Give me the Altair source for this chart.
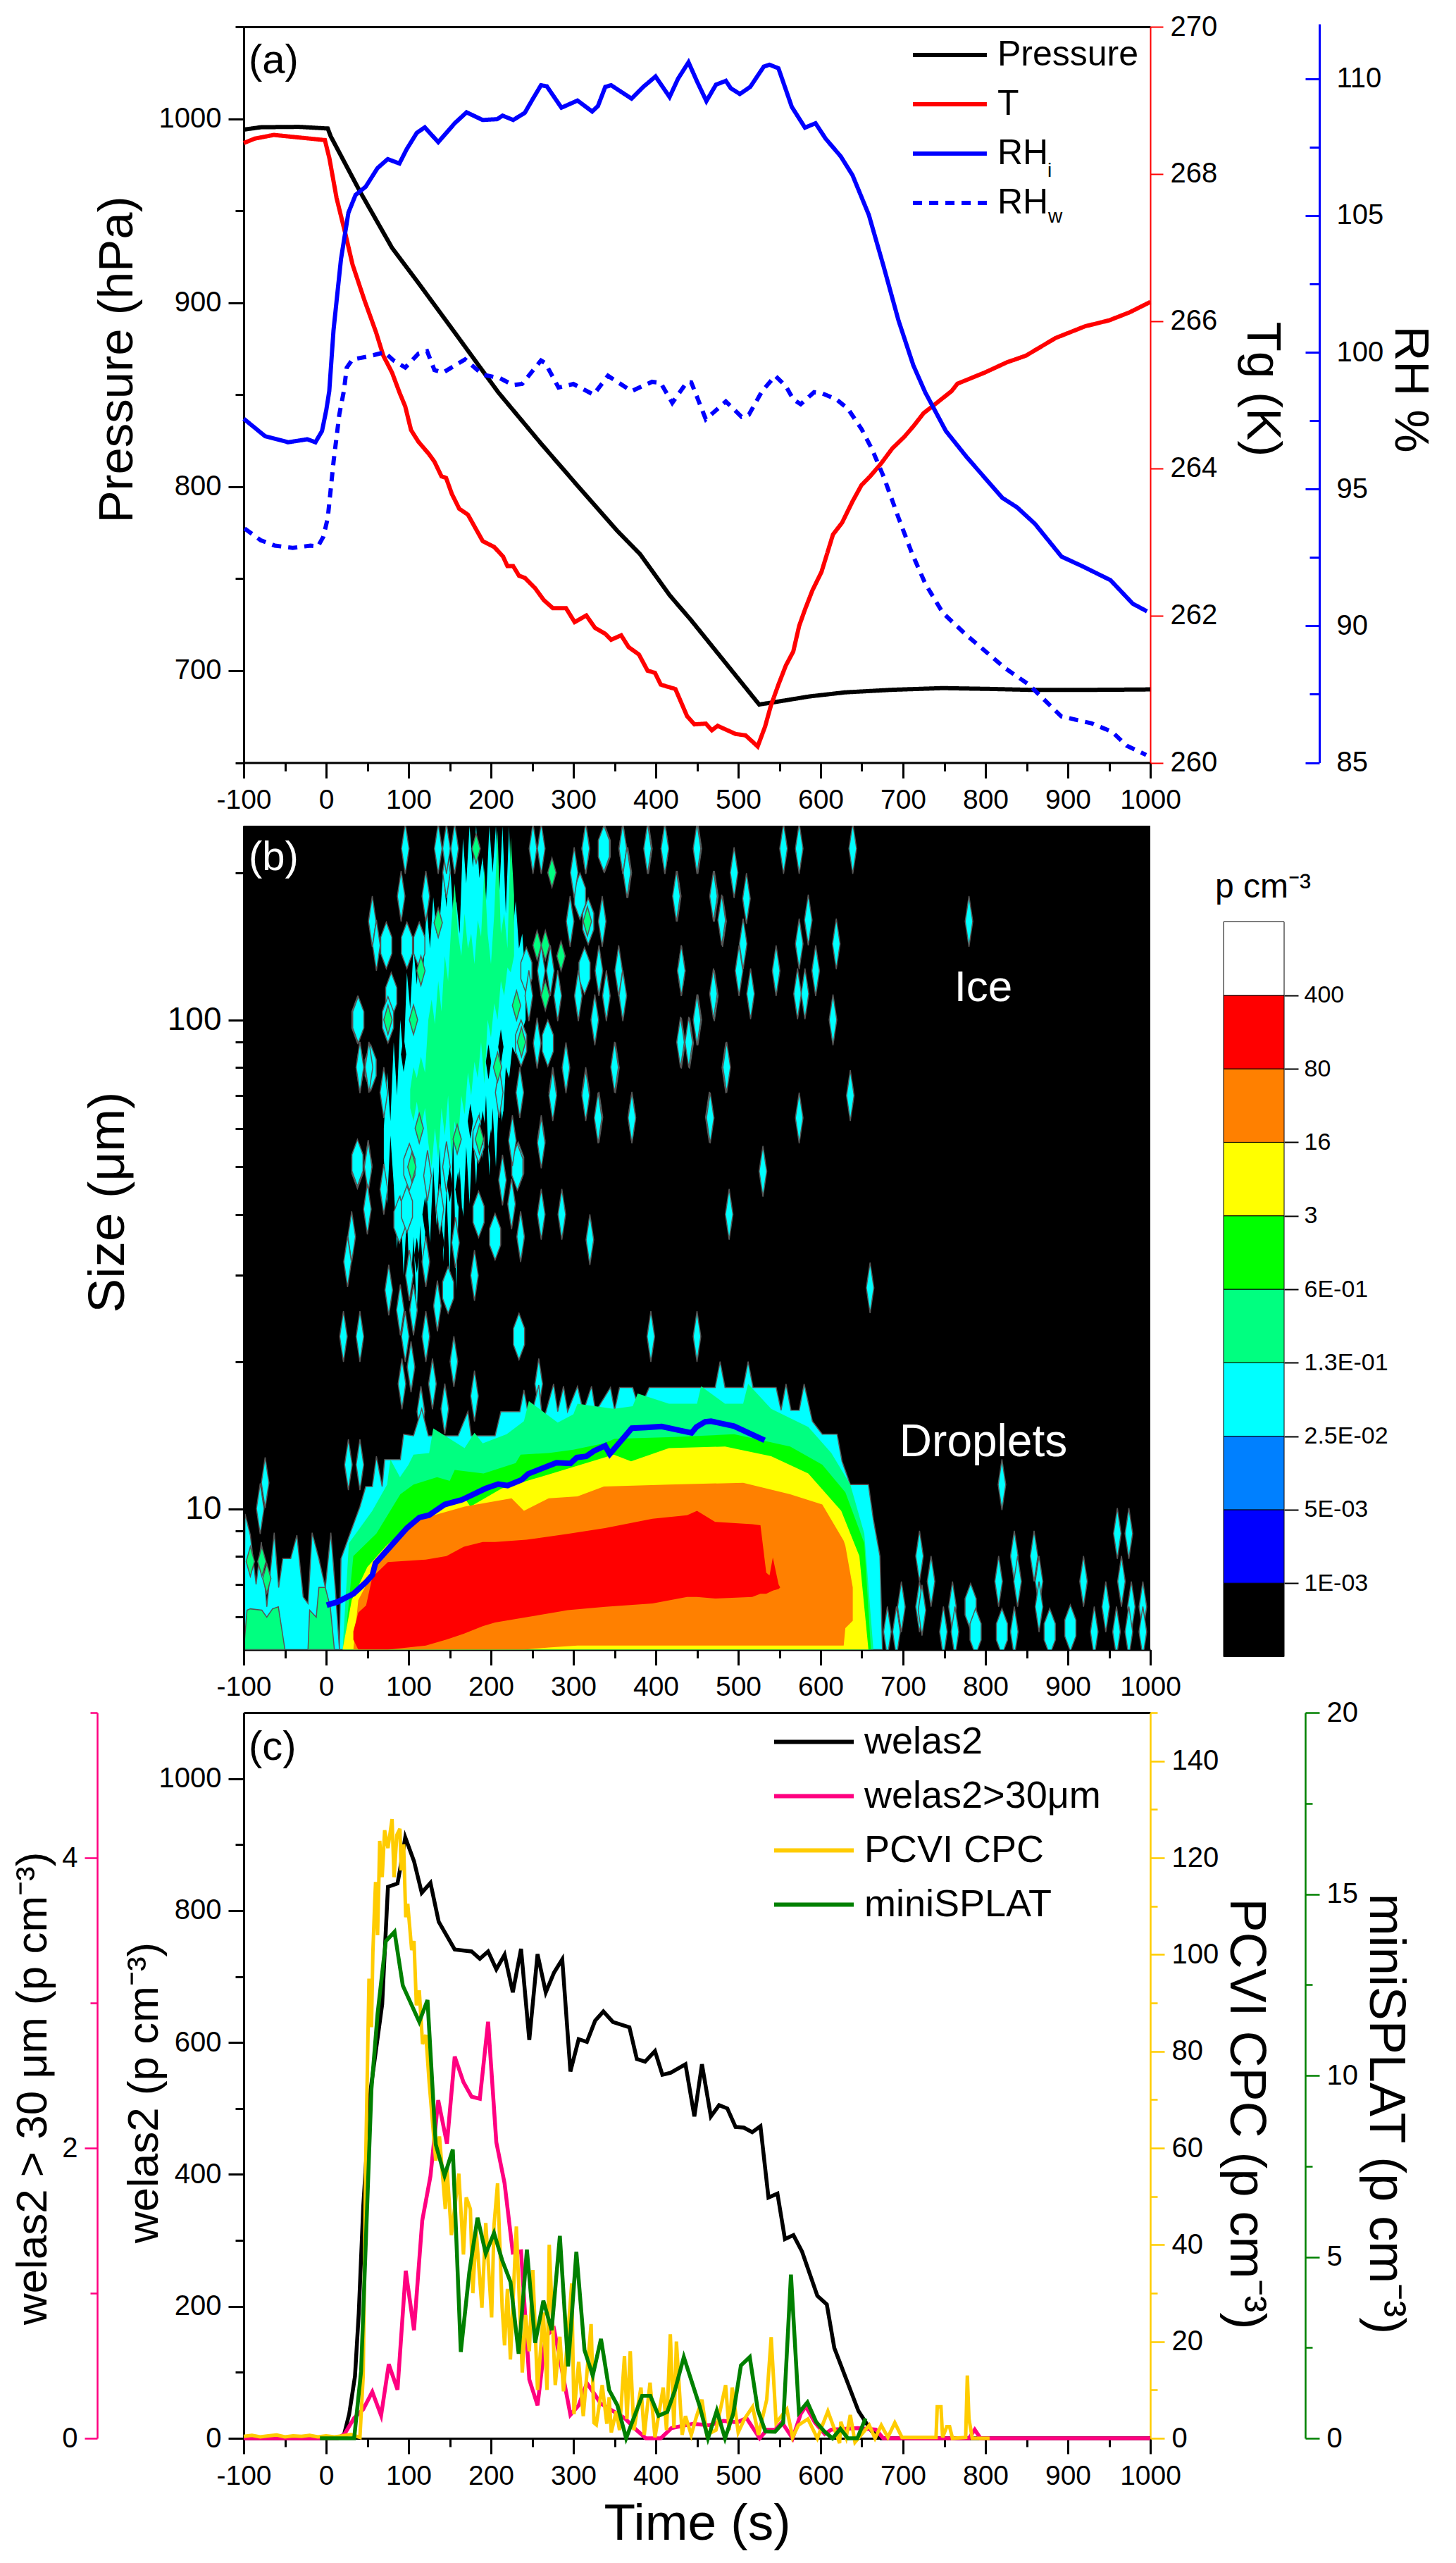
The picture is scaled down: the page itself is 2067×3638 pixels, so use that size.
import json
import altair as alt
import pandas as pd

FONT = "Liberation Sans"
XDOM = [-100, 1000]
W = 1287
HA, HB, HC = 1044.5, 1169.5, 1030

# ---------- panel (a) ----------
p_t = [-100,-79,-33,2,5.5,41,80,112,158,209,261,303,353,381,417,442.7,525.4,543,586.6,629.7,687,748,802,860,946,1000]
p_v = [994.1,995.4,995.6,994.7,990.5,960.5,929.8,910.7,882.6,851.2,823.3,801.6,776.1,763.3,740.9,727.5,681.6,682.8,686,688.2,689.6,690.5,690.1,689.5,689.6,689.8]
T_t = [-100,-86.6,-63.5,-37,-1.5,4,12.7,23.3,32,46.3,60.5,69.4,80,89,96,103,112,124.3,131.4,140,145.5,152.6,161.5,172,190,204,214.7,220,227,234,241.2,253.6,264,275,291,301.5,315.7,326.3,338.7,345.8,358,367,379.5,390,399,406,423.8,438,446.8,460.7,468,475,496.7,509,523.6,532.6,539.8,548.8,557.8,566.8,574,581,590,601,615,626,638.7,649.5,660,673,687,701.7,712.5,725,737.7,759,766,799,826,849,885,921,950,975,1000]
T_v = [268.42,268.48,268.53,268.50,268.46,268.21,267.67,267.19,266.77,266.29,265.85,265.53,265.30,265.03,264.84,264.52,264.36,264.20,264.09,263.89,263.87,263.65,263.45,263.37,263.01,262.93,262.80,262.67,262.67,262.54,262.51,262.37,262.21,262.10,262.10,261.91,262.00,261.83,261.75,261.67,261.73,261.57,261.47,261.25,261.22,261.06,261.00,260.63,260.52,260.53,260.44,260.50,260.39,260.37,260.22,260.49,260.78,261.06,261.32,261.51,261.86,262.08,262.34,262.59,263.10,263.26,263.55,263.77,263.89,264.06,264.27,264.43,264.57,264.75,264.86,265.05,265.15,265.30,265.44,265.53,265.77,265.93,266.01,266.12,266.26]
rhi_t = [-100,-74,-46,-22.8,-13,-5,0.2,3.8,9,18,27,35.7,48,62.3,74.7,88.9,97.7,110,119.7,136,156,170.4,189.9,207.6,214,227,241,250,260.7,267.8,285.5,305,322.8,329.8,338.7,345.8,370.6,384.8,399.7,416.7,427,439.7,450,461.4,473,485,491,502,514.6,531,538,548.8,565,581,593.8,606,624.4,638.7,658.5,676.5,694.5,712.5,727,752,777.2,820.4,838.4,860,892.3,917.5,951.7,978.7,996]
rhi_v = [97.57,96.93,96.71,96.82,96.71,97.12,97.89,98.58,100.82,103.4,105.1,105.75,106.05,106.73,107.06,106.9,107.42,108.02,108.22,107.68,108.37,108.77,108.49,108.52,108.65,108.49,108.75,109.22,109.76,109.72,108.94,109.2,108.8,109.0,109.7,109.76,109.27,109.7,110.08,109.33,110.0,110.6,109.9,109.18,109.78,109.92,109.65,109.44,109.7,110.44,110.51,110.38,108.97,108.21,108.37,107.81,107.16,106.47,105.02,103.13,101.16,99.52,98.53,97.12,96.17,94.68,94.33,93.73,92.53,92.18,91.67,90.81,90.53]
rhw_t = [-99,-79.5,-62,-40.5,-19,-10,-3.3,2,9,16,21.5,25,32,51.6,71,81.8,96,112,122.5,131.4,142,168.6,190,211,227,237.7,260.7,266,282,300,324.5,342,370.6,395.4,406,420,438,443,460.7,485,504,513,529,545,558,566.8,575.8,592,601,619,633,649.5,662,676.5,694.5,710.7,727,748.4,777,824,852.7,892,928.3,953.5,971.4,995]
rhw_v = [93.56,93.13,92.93,92.85,92.93,92.9,93.26,93.95,96.0,97.73,98.58,99.44,99.74,99.85,100.0,99.7,99.44,99.95,100.04,99.35,99.26,99.74,99.18,99.05,98.8,98.84,99.7,99.6,98.71,98.84,98.45,99.14,98.58,98.92,98.88,98.15,98.92,98.9,97.55,98.2,97.64,97.72,98.58,99.14,98.75,98.28,98.1,98.54,98.51,98.28,97.94,97.2,96.48,95.45,93.95,92.66,91.54,90.47,89.66,88.45,87.85,86.69,86.44,86.13,85.62,85.28]
a_names = ["Pressure", "T", "RHi", "RHw"]
a_colors = ["#000000", "#FF0000", "#0000FF", "#0000FF"]

# ---------- panel (b) ----------
level_labels = ["1E-03","5E-03","2.5E-02","1.3E-01","6E-01","3","16","80","400"]
level_colors = ["#000000","#0000FF","#0080FF","#00FFFF","#00FF80","#00FF00","#FFFF00","#FF8000","#FF0000","#FFFFFF"]

mean_t = [0.7,14.1,33.2,48.5,56.1,59.9,75.2,98.1,113.4,124.8,143.9,164.9,193.5,208.8,220.2,237.4,245,279.4,296.5,304.2,315.6,325.1,338.5,344.2,370.9,388.1,407.2,430.1,443.4,449.2,459.9,467,495,532]
mean_s = [6.35,6.45,6.7,7.08,7.32,7.74,8.27,9.13,9.6,9.7,10.2,10.43,11,11.23,11.15,11.46,11.78,12.42,12.38,12.73,12.8,13.13,13.45,12.94,14.61,14.66,14.73,14.45,14.29,14.69,15.06,15.1,14.75,13.8]

cy_t = [16,18,29,41,48,56,61,68,71,90,94,106,116,124,160,172,176,205,212,216,235,240,247,258,263,276,281,288,293,305,312,322,327,345,350,356,372,380,392,472,478,484,506,512,518,546,552,558,564,574,580,590,602,620,626,636,658,664,672,675]
cy_s = [5.2,7.9,8.9,10.1,11.1,11.1,12.8,11.1,12.6,12.6,14.2,14.1,16,14.1,14.1,15.8,14.1,14.1,15.8,15.8,15.8,17.5,15,17.9,15,18,15.8,17.8,15.8,17.8,15.8,17.8,15.8,17.7,15.9,17.7,17.7,15.9,17.7,17.7,20,17.7,17.7,20,17.7,17.7,15.9,18,15.9,15.9,18,15.1,14.2,14.2,12.5,11.2,11.2,9.5,8,5.15]
sg_t = [20,27.6,56,74,78,89.6,100,106,125,130,168,180,190,219,240,246,281,300,305,349,372,378,416,450,455,484,506,512,540,585,613,636,653,664]
sg_s = [5.15,8.5,9.9,11.2,12.6,11.6,12.3,12.9,13,14.6,13.3,14.3,13.6,14.2,15.1,16.6,15,15.6,16.4,16,16.2,17.2,16.4,16.4,17.8,16.4,16.4,18,16,14.7,13,11.2,8.9,5.15]
gr_t = [22,33,61,90,106,134.6,150,156,191,230,236,270,300,337,350,416,495,563,602,630,653,661]
gr_s = [5.15,8,8.9,10.7,11.2,11.6,11.4,12,11.8,12.4,12.9,13,13.2,13.6,13.9,14,14.2,13.4,12.3,10.8,8.5,5.15]
ye_t = [20,31,50,73,106,146,170,175,213,281,349,370,416,484,540,585,625,647,658]
ye_s = [5.15,6.5,7.6,8.4,9.4,10.1,10.4,10.1,11,11.9,12.9,12.5,13.3,13.4,12.8,11.8,9.9,8,5.15]
or_t = [33,39,67,106,112,168,225,240,270,305,337,416,506,563,602,628,630,639]
or_s = [5.15,6.5,8,9.4,9.5,10.1,10.5,9.9,10.5,10.6,11.1,11.2,11.3,10.7,10.2,8.6,8.4,6.9]
or_b = [5.15,5.15,5.15,5.15,5.15,5.15,5.15,5.15,5.2,5.25,5.25,5.25,5.25,5.25,5.25,5.25,5.7,5.9]
rd_t = [33,39,48.5,56,75,121,146,167,190,205,243,293,338.5,396,438,450,472,517,527,534,538,542,549,551]
rd_s = [5.61,6.13,6.34,7.24,7.78,7.87,8,8.36,8.55,8.55,8.64,8.88,9.13,9.54,9.7,9.9,9.4,9.3,9.25,7.4,7.3,7.95,7,6.9]
rd_b = [5.4,5.15,5.15,5.15,5.15,5.25,5.4,5.55,5.75,5.85,6,6.2,6.3,6.4,6.6,6.6,6.55,6.6,6.7,6.7,6.75,6.8,6.85,6.9]

pre_t = [-100,-98.4,-92,-85,-78.6,-72,-63,-57.6,-52.6,-43,-35.5,-27.8,-22,-17,-8.8,-1,5.7,11,16]
pre_s = [5.15,9.76,8.83,7,8.55,6.3,8.93,6.9,7.91,7.91,8.83,6.6,6.4,8.93,7.9,6.9,8.93,6.9,5.2]
pg1_t = [-100,-96,-92,-78,-72,-65,-58,-50]
pg1_s = [5.15,6.2,6.24,6.2,6.0,6.24,6.3,5.15]
pg2_t = [-22,-20,-12,-8.8,-1,5,10]
pg2_s = [5.15,6.2,6.0,6.9,6.9,6.3,5.15]

blob_t = [70,74,78,82,86,90,94,98,102,106,110,114,118,122,126,130,134,138,142,146,150,154,158,162,166,170,174,178,182,186,190,194,198,202,206,210,214,218,222,226,230,234,238,242]
blob_lo = [52,42,58,46,34,44,30,40,27,36,25,38,30,44,35,50,38,55,32,45,30,60,28,50,38,55,42,60,46,65,52,70,48,66,50,72,60,80,76,88,85,92,95,100]
blob_hi = [60,78,62,90,70,100,82,125,105,140,118,150,128,170,140,178,150,160,200,170,215,165,175,150,235,190,249,205,249,195,215,175,249,200,249,180,249,165,249,150,175,140,150,120]
gblob_t = [102,106,110,115,120,124,128,132,136,140,144,148,152,156,160,164,168,172,176,180,184,188,192,196,200,204,208,212,216,220,224,228]
gblob_lo = [66,62,68,60,66,56,50,60,52,66,58,70,52,62,56,70,64,78,70,82,76,90,74,100,92,108,100,120,112,128,125,135]
gblob_hi = [72,80,76,84,78,100,110,98,120,104,135,120,158,190,150,135,165,140,150,130,160,148,205,150,130,165,244,150,165,140,236,180]

thin_t = [96,136,146,156,251,261,315,360,391,411,451,301,366,146,91,121,426,471,56,296,335,481,61,331,355,431,261,272,340,360,471,306,281,246,326,451,431,441,256,41,351,485,291,70,275,315,235,210,331,371,465,261,226,51,
          639,574,555,585,574,619,594,546,572,581,515,470,501,506,480,470,510,495,450,411,390,360,315,365,425,431,450,430,440,615,486,350,636,574,466,371,330,315,275,261,530,489,286,261,320,394,450,660,820,960,974,720,734,816,835,859,839,865,919,965,
          720,698,760,865,946,977,991,749,763,692,681,723,835,932,959,974,991,780,
          41,52,51,50,70,31,26,76,101,90,106,121,96,21,41,92,103,129,115,144,155,180,225,236,214,157,138,121,135,123,146,27,41,-74,-80,180,258]
thin_s = [224,224,200,224,224,224,224,224,224,224,224,200,200,224,179,179,179,179,159,159,159,159,142,126,126,126,126,126,112,112,112,112,112,112,100,100,89.6,89.6,89.6,79.8,79.8,79.8,79.8,71,71,71,71,71,63.2,63.2,63.2,56.6,56.6,50.4,
          224,224,224,160,143,143,126,126,113,113,113,113,126,143,160,179,177,200,224,224,224,224,224,200,179,126,100,90,90,100,80,80,70,63,63,63,63,70,70,56,49,40,40,40,35.5,22.5,22.5,28.3,11.2,8.9,8.9,8,7.1,7.1,8,8,7.1,7.1,7.1,7.1,
          6.3,6.3,6.3,6.3,6.3,6.3,6.3,5.6,5.6,5.6,5.6,6.2,5.6,5.6,5.6,5.6,5.6,159,
          80,80,50,41,45,36,32,28,30,25.5,25.5,22.5,22.5,22.5,22.5,18,19.5,18,15.8,16,20,30,42,36,47,35,41,32,26,48,50,12.3,12.3,11.3,10,17,18]
fat_t = [338,308,318,73,98,113,243,313.5,79,38,75,269,236.5,54,38,233,337,782,903,878,820,788,234,39,38,89,98,148,185,205,232,101,185]
fat_s = [224,179,159,142,142,142,126,126,112,100,100,89.6,89.6,79.8,50.4,50.4,224,6.3,5.7,5.6,5.6,5.6,22.5,100,51,39,41,28,40,36,50,50,57]
in_t = [182,274,136,115,75,106,231,256,266,285,317,266,237,208,159,186,104,113,-92,-78,-72]
in_s = [224,200,158,126,100,100,107,142,142,135,159,112,90,80,57,57,50,60,7.8,7.8,7.2]
hole_t = [197,212,94,175,150,165,190,120,140,110,160,200,215]
hole_s = [82,88,85,62,46,38,60,40,35,33,45,55,60]

# ---------- panel (c) ----------
w_t = [-100,-6,21,28,35,39.6,45,54,68,75,86.6,89.5,96,106.6,116,126.6,136.6,156,176.5,186.5,196.5,206.5,216.5,226.5,236.5,246.5,256.5,266.5,276.5,286.5,296.4,306.4,316.4,326.4,336.4,348,368,377,387,399,408,418,436,446.8,456,466.8,476.8,486.8,496.8,506.8,517,527,536.7,547.6,556.7,567,577.5,596,607.5,616.6,646,661.7,673,1000]
w_v = [0,0,2,37,94,190,351,529,658,836,841,861,911,875,827,842,783,741,738,727,738,711,733,676,742,604,734,676,706,726,556,605,601,633,647,631,623,575,571,587,551,554,567,488,567,488,505,500,472,471,464,473,365,371,302,308,283,216,203,137,41,11,0,0]
k_t = [-100,14,22.4,34,45,56,66.7,76,86.6,96.6,106.6,116.6,126.6,136,146.6,156,166.6,176.5,186.5,196.5,206.5,216.5,226.5,236.5,246.5,256.5,266.5,276.5,286.5,296.4,306.4,316.4,325,333,362,376,388,406,419,445,465,482,499,510,526,535,545,553,566,576,582,593,605,613,645,667,676,780,787,794,1000]
k_v = [0,0,.03,.14,.2,.32,.157,.51,.335,1.155,.745,1.5,1.807,2.33,2.03,2.63,2.455,2.354,2.34,2.87,2.04,1.758,1.28,1.288,.405,.227,.705,.753,.46,.162,.227,.38,.31,.24,.14,.06,0,0,.07,.1,.09,.12,.11,.14,0,.06,.06,.11,0,.17,.22,.11,.03,.06,.07,.06,0,0,.06,0,0]
c_t = [-100,-90,-80,-70,-60,-50,-40,-30,-20,-10,0,10,20,30,41,45,48,52,55,56.7,59,60,62.4,64,65,68,71,75,80,82.4,85.8,89.5,91,94,96.6,99,103.8,106.6,109.5,113,117,121,125,133,137.5,144.6,146.6,152,161,166.6,170,175,178,182,189,193.7,200.8,203.7,208,213.6,216.5,220,223.6,230.8,238,242,246.5,250.8,256.5,263.6,268,270.7,278,283.6,288,298,300.7,306.4,312,321.5,325,327.8,335,340.6,343.4,346,352,356,362,365,369,373.4,382,386,393,399,409,413,417.6,422,425,432,436,443,449,456,462,473,484.7,489,492.7,500,507.6,517.5,524.6,534.6,540,546,559,566,573,584.6,596,608.8,623,624.5,631,636,641.7,659,666,673.6,681.6,690,698.7,735,740,741.5,746,748,753,756.5,760,776,778,780,784,805]
c_v = [.4,.6,.3,.5,.7,.3,.5,.4,.6,.3,.5,.3,.5,.8,.2,13,57,95,85,100.4,111,115,104,115.5,123.5,116,125.7,122,128,116,124.7,126,117.4,122.8,107.7,110.5,100.9,102.8,89.5,92.6,81.5,83.4,73.6,57.4,62.4,47.4,56,42,54.7,38,49.8,47.4,30,43,27,44.5,25,44,52.7,27,19.2,30.9,16.3,43.8,13.6,25.5,18,34.8,10,26,10,40,11,21,9.7,32,5,15.8,4.6,23.6,3.2,2.8,11,3,8.5,1.2,5.6,1.7,17,4,18,1.7,10.5,.7,11.5,.2,10.5,1.7,21.5,2.2,20,.7,4.6,.7,4.3,8,.7,1.7,11,1.7,10.5,1.2,4,6.5,.7,8,20.9,3.2,6,.2,2.7,4,0,5.6,-1,3.4,.2,4.8,-.8,2.7,0,2.7,.2,3.2,.2,.2,.2,6.5,6.5,.2,2.4,2.4,0,.2,13,4,0,0]
m_t = [-7.5,34,42.4,55,62.4,72.4,83,93,113,123,133,143.7,153.7,163.4,173.7,183.7,193.7,203.7,213.7,223.7,233.6,243.6,253.6,263.6,273.6,283.6,293.6,303.6,313.5,323.5,333.5,343.4,353.4,364,383.4,393.4,403.4,414,423.3,434,453.3,463.3,474,484,494,503.3,514,523.8,533,544.6,554.6,564,573.7,584,594.6,604.5,614.5,624,633,644.5,654.5]
m_v = [0,0,1.85,9.63,11.7,13.7,13.96,12.48,11.48,12.08,8.1,7.24,7.96,2.38,4.57,6.08,5.09,5.66,4.9,4.31,2.33,5.2,2.63,3.79,2.98,5.58,1.98,5.14,2.43,1.73,2.74,1.33,.91,0,1.17,1.17,.62,.73,1.33,2.24,.88,0,.76,0,.68,2.01,2.24,.78,.19,.18,.43,4.51,.71,.99,.45,.19,0,.26,0,0,.55]
c_names = ["welas2", "welas2>30\u03bcm", "PCVI CPC", "miniSPLAT"]
c_colors = ["#000000", "#FF0080", "#FFCC00", "#008000"]

x_major = list(range(-100, 1001, 100))
x_minor = list(range(-50, 1000, 100))


def ln(t, v, name):
    return pd.DataFrame({"t": t, "v": v, "series": name})


def xaxis(values, tick=22, labels=True, domain=True, **kw):
    d = dict(values=values, tickSize=tick, tickColor="black", tickWidth=3, domainColor="black", domainWidth=3,
             labels=labels, domain=domain, grid=False, title=None, labelFontSize=39, labelColor="black",
             labelFont=FONT, labelPadding=12, labelExpr="''+datum.value", labelOverlap=False, labelFlush=False,
             orient="bottom")
    d.update(kw)
    return alt.Axis(**d)


def yaxis(values, color="black", tick=22, tw=3, labels=True, domain=True, size=40, title=None, tsize=69, **kw):
    d = dict(values=values, tickSize=tick, tickColor=color, tickWidth=tw, domainColor=color, domainWidth=tw,
             labels=labels, domain=domain, grid=False, labelFontSize=size, labelColor="black", labelFont=FONT,
             labelPadding=10, labelOverlap=False, labelFlush=False, title=title, format="d", orient="left")
    if title:
        d.update(titleFontSize=tsize, titleFontWeight="normal", titleFont=FONT, titleColor="black",
                 titleAlign="center", titleBaseline="middle")
    d.update(kw)
    return alt.Axis(**d)


def ghost(xscale, yscale, xax=None, yax=None):
    df = pd.DataFrame({"x": [xscale.domain[0]], "y": [yscale.domain[0]]})
    return alt.Chart(df).mark_point(opacity=0).encode(
        x=alt.X("x:Q", scale=xscale, axis=xax), y=alt.Y("y:Q", scale=yscale, axis=yax))


def note(text, x, y, size, color="black", align="center", **kw):
    return alt.Chart(pd.DataFrame({"s": [text]})).mark_text(
        font=FONT, fontSize=size, color=color, align=align, baseline="middle", **kw
    ).encode(x=alt.value(x), y=alt.value(y), text="s:N")


sx = alt.Scale(domain=XDOM, nice=False, zero=False)

# ---------------- (a) ----------------
sP = alt.Scale(domain=[650, 1050], nice=False, zero=False)
sT = alt.Scale(domain=[260, 270], nice=False, zero=False)
sRH = alt.Scale(domain=[85, 112], range=[HA, -4], nice=False, zero=False)
leg_a = alt.Legend(title=None, orient="none", legendX=947, legendY=5, labelFontSize=50, labelFont=FONT,
                   symbolSize=11000, symbolStrokeWidth=6, clipHeight=70, rowPadding=0, labelOffset=12,
                   labelExpr="slice(datum.label,0,2)=='RH' ? 'RH' : datum.label", labelColor="black", labelLimit=400)
c_a = alt.Color("series:N", scale=alt.Scale(domain=a_names, range=a_colors), legend=leg_a)
d_a = alt.StrokeDash("series:N", scale=alt.Scale(domain=a_names, range=[[1, 0], [1, 0], [1, 0], [13, 10]]), legend=leg_a)


def aline(df, sy, sw=6):
    return alt.Chart(df).mark_line(strokeWidth=sw).encode(
        x=alt.X("t:Q", scale=sx, axis=None), y=alt.Y("v:Q", scale=sy, axis=None), color=c_a, strokeDash=d_a)


panel_a = alt.layer(
    ghost(sx, sP, xaxis(x_major), yaxis(list(range(700, 1001, 100)), title="Pressure (hPa)", titleX=-180, titleY=472)),
    ghost(sx, sP, xaxis(x_minor, tick=12, labels=False, domain=False), yaxis(list(range(650, 1051, 100)), tick=12, labels=False, domain=False)),
    ghost(sx, sT, xaxis([], tick=0, labels=False, orient="top"),
          yaxis(list(range(260, 271, 2)), color="#FF0000", tw=2, tick=18, orient="right", title="Tg (K)", titleX=158, titleY=514, titleAngle=90)),
    ghost(sx, sRH, None, yaxis(list(range(85, 111, 5)), color="#0000FF", tw=3, tick=20, labels=False, orient="left", offset=-1527)),
    ghost(sx, sRH, None, yaxis([87.5, 92.5, 97.5, 102.5, 107.5], color="#0000FF", tw=3, tick=14, labels=False, domain=False, orient="left", offset=-1527)),
    ghost(sx, sRH, None, yaxis(list(range(85, 111, 5)), tick=0, domain=False, orient="right", offset=240, labelPadding=24,
                               title="RH %", titleX=128, titleY=514, titleAngle=90)),
    aline(ln(p_t, p_v, "Pressure"), sP),
    aline(ln(T_t, T_v, "T"), sT, 6),
    aline(ln(rhi_t, rhi_v, "RHi"), sRH),
    aline(ln(rhw_t, rhw_v, "RHw"), sRH),
    note("(a)", 7, 49, 58, align="left"),
    note("i", 1144, 205, 28),
    note("w", 1152, 270, 28),
).resolve_scale(x="independent", y="independent").properties(width=W, height=HA)

# ---------------- (b) ----------------
sS = alt.Scale(type="log", domain=[5.15, 249.5], nice=False, zero=False, base=10)
sL = alt.Scale(domain=[0, 10], range=[1179.5, 136.5], nice=False, zero=False)


def band(t, hi, lo=None, color="#00FFFF", stroke=None, sw=1.5):
    if lo is None:
        lo = [5.15] * len(t)
    kw = dict(color=color, clip=True)
    if stroke:
        kw.update(stroke=stroke, strokeWidth=sw)
    return alt.Chart(pd.DataFrame({"t": t, "hi": hi, "lo": lo})).mark_area(**kw).encode(
        x=alt.X("t:Q", scale=sx, axis=None), y=alt.Y("hi:Q", scale=sS, axis=None), y2="lo:Q")


def spots(t, s, shape, fill, h, stroke="#555555"):
    kw = dict(stroke=stroke, strokeWidth=1.5) if stroke else dict(strokeWidth=0)
    return alt.Chart(pd.DataFrame({"t": t, "s": s})).mark_point(
        shape=shape, filled=True, fill=fill, size=h * h, opacity=1, clip=True, **kw
    ).encode(x=alt.X("t:Q", scale=sx, axis=None), y=alt.Y("s:Q", scale=sS, axis=None))


THIN = "M0,-1L0.15,0L0,1L-0.15,0Z"
FAT = "M0,-1L0.24,-0.35L0.24,0.35L0,1L-0.24,0.35L-0.24,-0.35Z"
INNER = "M0,-1L0.28,0L0,1L-0.28,0Z"

bar = pd.DataFrame({"lo": list(range(10)), "hi": list(range(1, 11)), "c": level_colors})

panel_b = alt.layer(
    alt.Chart(pd.DataFrame({"a": [XDOM[0]], "b": [XDOM[1]], "y": [5.15], "y2": [249.5]})).mark_rect(color="black").encode(
        x=alt.X("a:Q", scale=sx, axis=None), x2="b:Q", y=alt.Y("y:Q", scale=sS, axis=None), y2="y2:Q"),
    band(pre_t, pre_s, stroke="#555555"),
    band(pg1_t, pg1_s, color="#00FF80", stroke="#555555"),
    band(pg2_t, pg2_s, color="#00FF80", stroke="#555555"),
    band(blob_t, blob_hi, blob_lo),
    spots(fat_t, fat_s, FAT, "#00FFFF", 66),
    spots(thin_t, thin_s, THIN, "#00FFFF", 72),
    spots(hole_t, hole_s, THIN, "#000000", 50, None),
    band(gblob_t, gblob_hi, gblob_lo, color="#00FF80"),
    spots(in_t, in_s, INNER, "#00FF80", 42),
    band(cy_t, cy_s, stroke="#555555"),
    band(sg_t, sg_s, color="#00FF80"),
    band(gr_t, gr_s, color="#00FF00"),
    band(ye_t, ye_s, color="#FFFF00"),
    band(or_t, or_s, or_b, color="#FF8000"),
    band(rd_t, rd_s, rd_b, color="#FF0000"),
    alt.Chart(ln(mean_t, mean_s, "m")).mark_line(color="#0000FF", strokeWidth=8, clip=True).encode(
        x=alt.X("t:Q", scale=sx, axis=None), y=alt.Y("v:Q", scale=sS, axis=None)),
    ghost(sx, sS, xaxis(x_major), yaxis([10, 100], size=46, title="Size (\u03bcm)", tsize=73, titleX=-193, titleY=534, zindex=1)),
    ghost(sx, sS, xaxis(x_minor, tick=12, labels=False, domain=False),
          yaxis([6, 7, 8, 9, 20, 30, 40, 50, 60, 70, 80, 90, 200], tick=12, labels=False, domain=False)),
    alt.Chart(bar).mark_rect(stroke="black", strokeWidth=1).encode(
        x=alt.value(1391), x2=alt.value(1477),
        y=alt.Y("lo:Q", scale=sL, axis=yaxis(list(range(1, 10)), tick=20, tw=2, domain=False, size=34, orient="right", offset=190,
                                             labelPadding=8,
                                             labelExpr=json.dumps(level_labels) + "[datum.value-1]")),
        y2="hi:Q", color=alt.Color("c:N", scale=None, legend=None)),
    note("(b)", 7, 46, 58, color="white", align="left"),
    note("Ice", 1050, 230, 62, color="white"),
    note("Droplets", 1050, 876, 64, color="white"),
    note("p cm\u207b\u00b3", 1447, 88, 48),
).resolve_scale(x="independent", y="independent").properties(width=W, height=HB)

# ---------------- (c) ----------------
sW = alt.Scale(domain=[0, 1100], nice=False, zero=False)
sK = alt.Scale(domain=[0, 5], nice=False, zero=False)
sC = alt.Scale(domain=[0, 150], nice=False, zero=False)
sM = alt.Scale(domain=[0, 20], nice=False, zero=False)
leg_c = alt.Legend(title=None, orient="none", legendX=750, legendY=3, labelFontSize=54, labelFont=FONT,
                   symbolSize=12769, symbolStrokeWidth=6, clipHeight=77, rowPadding=0, labelOffset=12, labelColor="black",
                   labelLimit=500)
c_c = alt.Color("series:N", scale=alt.Scale(domain=c_names, range=c_colors), legend=leg_c)


def cline(df, sy, sw=5.5):
    return alt.Chart(df).mark_line(strokeWidth=sw).encode(
        x=alt.X("t:Q", scale=sx, axis=None), y=alt.Y("v:Q", scale=sy, axis=None), color=c_c)


panel_c = alt.layer(
    ghost(sx, sW, xaxis(x_major, title="Time (s)", titleFontSize=73, titleFontWeight="normal", titleFont=FONT, titlePadding=12),
          yaxis(list(range(0, 1001, 200)), title="welas2 (p cm\u207b\u00b3)", tsize=62, titleX=-142, titleY=539)),
    ghost(sx, sW, xaxis(x_minor, tick=12, labels=False, domain=False), yaxis(list(range(100, 1100, 200)), tick=12, labels=False, domain=False)),
    ghost(sx, sK, xaxis([], tick=0, labels=False, orient="top"),
          yaxis([0, 2, 4], color="#FF0080", tw=2.5, tick=18, offset=208,
                title="welas2 > 30 \u03bcm (p cm\u207b\u00b3)", tsize=62, titleX=-92, titleY=533)),
    ghost(sx, sK, None, yaxis([1, 3, 5], color="#FF0080", tw=2.5, tick=10, labels=False, domain=False, offset=208)),
    ghost(sx, sC, None, yaxis(list(range(0, 141, 20)), color="#FFCC00", tw=2.5, tick=20, orient="right",
                              title="PCVI CPC (p cm\u207b\u00b3)", tsize=72, titleX=135, titleY=569, titleAngle=90)),
    ghost(sx, sC, None, yaxis(list(range(10, 151, 20)), color="#FFCC00", tw=2.5, tick=10, labels=False, domain=False, orient="right")),
    ghost(sx, sM, None, yaxis(list(range(0, 21, 5)), color="#008000", tw=2.5, tick=20, orient="right", offset=220,
                              title="miniSPLAT (p cm\u207b\u00b3)", tsize=72, titleX=113, titleY=569, titleAngle=90)),
    ghost(sx, sM, None, yaxis([2.5, 7.5, 12.5, 17.5], color="#008000", tw=2.5, tick=10, labels=False, domain=False, orient="right", offset=220)),
    cline(ln(w_t, w_v, "welas2"), sW),
    cline(ln(k_t, k_v, "welas2>30\u03bcm"), sK),
    cline(ln(c_t, c_v, "PCVI CPC"), sC, 5),
    cline(ln(m_t, m_v, "miniSPLAT"), sM),
    note("(c)", 7, 50, 58, align="left"),
).resolve_scale(x="independent", y="independent").properties(width=W, height=HC)

chart = alt.vconcat(panel_a, panel_b, panel_c, spacing=89, bounds="flush").resolve_scale(
    color="independent", strokeDash="independent"
).properties(
    padding={"left": 7, "top": 10, "right": 5, "bottom": 5}
).configure(font=FONT).configure_view(stroke=None)

chart.save("out.html", embed_options={"renderer": "svg", "actions": False})
